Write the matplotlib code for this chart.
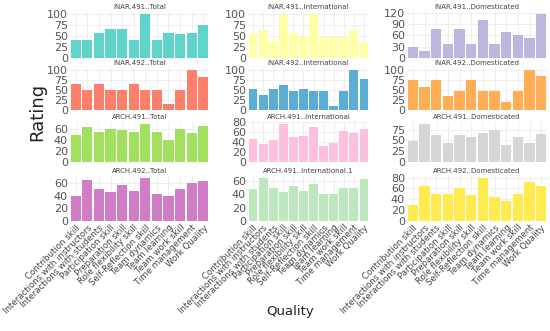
import matplotlib
matplotlib.use("Agg")
import matplotlib.pyplot as plt
import numpy as np

categories = ["Contribution skill", "Interactions with instructors",
              "Interactions with students", "Participation skill",
              "Preparation skill", "Role flexibility skill",
              "Self-Reflection skill", "Team dynamics", "Team learning",
              "Team work skill", "Time management", "Work Quality"]

# one list per facet, row-major order
inar491_total = [42, 42, 58, 67, 67, 42, 100, 42, 58, 54, 58, 75]
inar491_intl = [54, 64, 39, 98, 58, 47, 100, 47, 47, 47, 65, 35]
inar491_dom = [30, 19, 78, 37, 76, 36, 101, 36, 70, 61, 52, 116]
inar492_total = [66, 50, 66, 50, 50, 66, 50, 50, 16, 50, 100, 82]
inar492_intl = [53, 37, 53, 62, 48, 53, 48, 48, 11, 48, 100, 77]
inar492_dom = [76, 58, 76, 34, 48, 76, 48, 48, 19, 48, 100, 84]
arch491_total = [49, 64, 55, 61, 58, 56, 70, 55, 40, 61, 53, 67]
arch491_intl = [47, 37, 45, 77, 51, 53, 70, 33, 39, 63, 58, 67]
arch491_dom = [49, 88, 63, 43, 63, 58, 67, 75, 40, 57, 45, 64]
arch492_total = [40, 65, 50, 46, 57, 47, 68, 43, 40, 50, 61, 63]
arch491_intl1 = [48, 64, 49, 43, 52, 45, 56, 41, 41, 49, 49, 63]
arch492_dom = [29, 64, 50, 50, 61, 48, 79, 44, 37, 50, 71, 65]

titles = ["INAR.491..Total", "INAR.491..International", "INAR.491..Domesticated",
          "INAR.492..Total", "INAR.492..International", "INAR.492..Domesticated",
          "ARCH.491..Total", "ARCH.491..International", "ARCH.491..Domesticated",
          "ARCH.492..Total", "ARCH.491..International.1", "ARCH.492..Domesticated"]
series = [inar491_total, inar491_intl, inar491_dom,
          inar492_total, inar492_intl, inar492_dom,
          arch491_total, arch491_intl, arch491_dom,
          arch492_total, arch491_intl1, arch492_dom]
colors = ["#5fd4ca", "#ffffa6", "#bdb6de", "#fd7f6c", "#5aaed5", "#ffae55",
          "#a2e060", "#ffc0e0", "#d6d6d6", "#d17cc6", "#bde8bd", "#ffea50"]
tick_steps = [25, 25, 30, 25, 25, 25, 20, 20, 25, 20, 20, 20]

W, H = 550, 331
cols_px = [(70, 209), (248, 369), (407, 547)]
rows_px = [(12, 58), (68, 110), (122, 162), (176, 221)]

fig = plt.figure(figsize=(W / 100, H / 100), dpi=100)
x = np.arange(len(categories))

for i, (vals, title, color, step) in enumerate(zip(series, titles, colors, tick_steps)):
    r, c = divmod(i, 3)
    x0, x1 = cols_px[c]
    top, bot = rows_px[r]
    ax = fig.add_axes([x0 / W, 1 - bot / H, (x1 - x0) / W, (bot - top) / H])
    ax.bar(x, vals, width=0.88, color=color, zorder=2)
    ymax = max(vals) * 1.05
    ax.set_ylim(0, ymax)
    ax.set_xlim(-0.5, len(categories) - 0.5)
    ax.set_yticks(np.arange(0, ymax, step))
    ax.set_xticks(x)
    ax.grid(True, color="#ececec", lw=0.6, zorder=0)
    for s in ax.spines.values():
        s.set_visible(False)
    ax.tick_params(length=0, pad=1.5, labelsize=8, labelcolor="#555555")
    ax.set_title(title, fontsize=5, color="#444444", pad=2)
    if r == 3:
        ax.set_xticklabels(categories, rotation=45, ha="right",
                           rotation_mode="anchor", fontsize=6.2, color="#444444")
    else:
        ax.set_xticklabels([])

fig.text(37 / W, 1 - 112 / H, "Rating", rotation=90, ha="center", va="center",
         fontsize=13, color="#222222")
fig.text(290 / W, 1 - 312 / H, "Quality", ha="center", va="center",
         fontsize=9.5, color="#222222")

fig.savefig("out.png", dpi=100)
